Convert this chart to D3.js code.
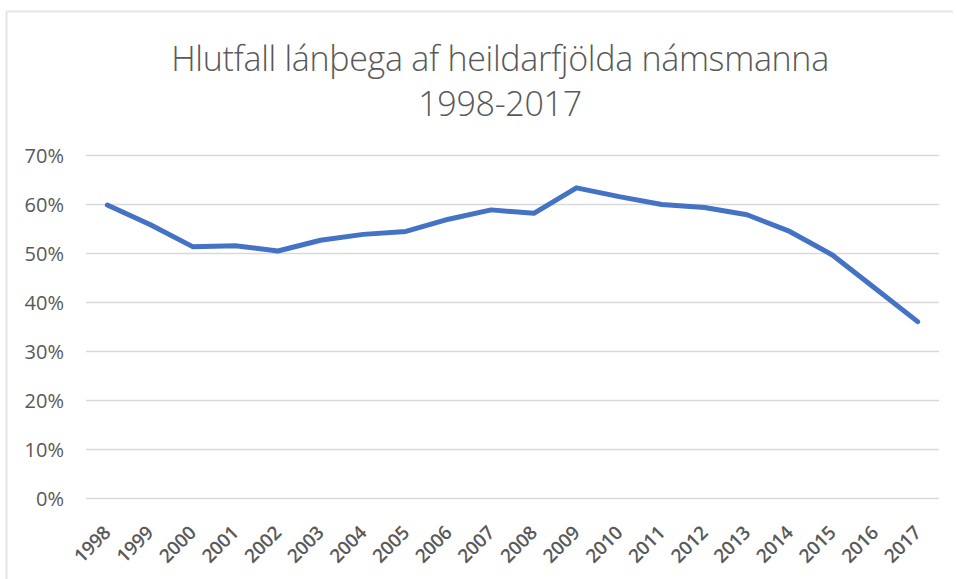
<!DOCTYPE html>
<html>
<head>
<meta charset="utf-8">
<script src="https://cdn.jsdelivr.net/npm/d3@7"></script>
<style>
  body { margin: 0; background: #fff; }
  svg text { font-family: "Open Sans", "Noto Sans", sans-serif; }
</style>
</head>
<body>
<svg id="chart"></svg>
<script>
// ár og hlutfall lánþega
const years = ["1998","1999","2000","2001","2002","2003","2004","2005","2006","2007",
               "2008","2009","2010","2011","2012","2013","2014","2015","2016","2017"]
const shares = [59.8, 55.8, 51.3, 51.5, 50.4, 52.6, 53.8, 54.4, 56.9, 58.8,
                58.1, 63.3, 61.5, 59.9, 59.3, 57.8, 54.4, 49.6, 42.8, 36.0]
const yTicks = [0, 10, 20, 30, 40, 50, 60, 70]
const titleLines = ["Hlutfall lánþega af heildarfjölda námsmanna", "1998-2017"]

const width = 957, height = 579
const margin = {top: 155, right: 18, bottom: 81, left: 86}

const svg = d3.select("#chart")
    .attr("width", width)
    .attr("height", height)

// faint chart frame
svg.append("path")
    .attr("d", "M6.5," + height + " V11.5 H" + (width - 4))
    .attr("fill", "none")
    .attr("stroke", "#e6e6e6")
    .attr("stroke-width", 2)

var x = d3.scalePoint()
    .domain(years)
    .range([margin.left, width - margin.right])
    .padding(0.5)

var y = d3.scaleLinear()
    .domain([0, 70])
    .range([height - margin.bottom, margin.top])

// gridlines
svg.append("g")
    .attr("transform", "translate(" + margin.left + ",0)")
    .call(d3.axisLeft(y).tickValues(yTicks).tickSize(-(width - margin.left - margin.right)).tickFormat(""))
    .call(g => g.select(".domain").remove())
    .selectAll("line")
      .attr("stroke", "#d9d9d9")
      .attr("stroke-width", 1.3)

// y labels
svg.append("g")
    .attr("transform", "translate(" + (margin.left - 22) + ",0)")
    .call(d3.axisLeft(y).tickValues(yTicks).tickSize(0).tickFormat(d => d + "%"))
    .call(g => g.select(".domain").remove())
    .selectAll("text")
      .attr("fill", "#595959")
      .attr("font-size", 20)
      .attr("x", 0)
      .attr("dy", "0.35em")

// x labels
var xAxis = svg.append("g")
    .attr("transform", "translate(0," + (height - margin.bottom) + ")")
    .call(d3.axisBottom(x).tickSize(0))
xAxis.select(".domain").remove()
xAxis.selectAll("text")
    .attr("fill", "#595959")
    .attr("font-size", 19)
    .attr("font-weight", 600)
    .attr("letter-spacing", -0.3)
    .attr("text-anchor", "end")
    .attr("dy", 0)
    .attr("y", 0)
    .attr("transform", "translate(4,36) rotate(-45)")

// line
var line = d3.line()
    .x((d, i) => x(years[i]))
    .y(d => y(d))

svg.append("path")
    .datum(shares)
    .attr("d", line)
    .attr("fill", "none")
    .attr("stroke", "#4472c4")
    .attr("stroke-width", 5)
    .attr("stroke-linejoin", "round")
    .attr("stroke-linecap", "round")

// title
svg.append("g")
    .selectAll("text")
    .data(titleLines)
    .enter()
    .append("text")
      .attr("x", 500)
      .attr("y", (d, i) => 71 + i * 45)
      .attr("text-anchor", "middle")
      .attr("font-size", 34)
      .attr("font-weight", 300)
      .attr("letter-spacing", -0.3)
      .attr("fill", "#595959")
      .text(d => d)
</script>
</body>
</html>
